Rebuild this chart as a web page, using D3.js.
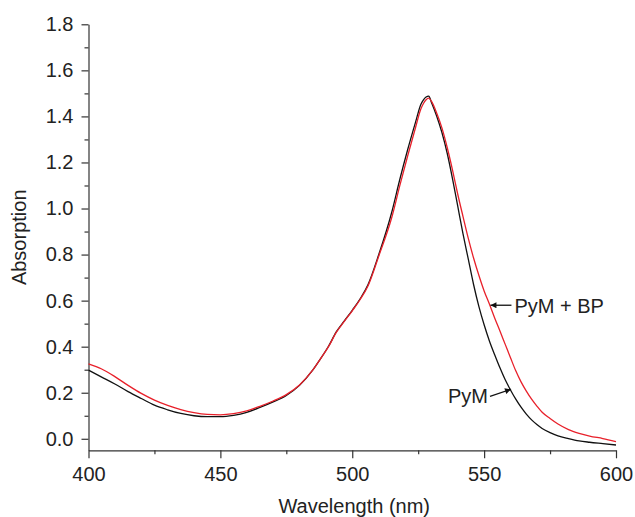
<!DOCTYPE html>
<html>
<head>
<meta charset="utf-8">
<script src="https://cdn.jsdelivr.net/npm/d3@7"></script>
<style>
  body { margin: 0; background: #fff; }
  svg text { font-family: "Liberation Sans", Arial, sans-serif; fill: #222; }
  .axis path, .axis line { stroke: #333; stroke-width: 1.2; }
</style>
</head>
<body>
<div id="chart"></div>
<script>
// wavelength samples (nm)
const wavelengths = [400, 405, 410, 415, 420, 425, 430, 435, 440, 445, 450, 455, 460, 465, 470, 475, 480,
  485, 488, 491, 494, 497, 500, 503, 506, 510, 515,
  518, 521, 524, 526, 527, 528, 529, 530,
  532, 534, 536, 538, 540, 542, 544, 546, 548, 550, 552, 554, 556, 558, 560, 562, 564, 566, 568, 570, 572,
  575, 578, 582, 586, 590, 595, 600];

// PyM (black)
const pym = [0.298, 0.268, 0.238, 0.205, 0.175, 0.146, 0.126, 0.110, 0.100, 0.096, 0.096, 0.102, 0.115, 0.136, 0.160, 0.188, 0.232,
  0.298, 0.348, 0.402, 0.465, 0.512, 0.558, 0.608, 0.670, 0.798, 0.985,
  1.125, 1.255, 1.375, 1.452, 1.472, 1.484, 1.488, 1.462,
  1.402, 1.330, 1.240, 1.130, 1.010, 0.890, 0.780, 0.670, 0.575, 0.495, 0.425, 0.365, 0.308, 0.256, 0.212, 0.172, 0.137, 0.107, 0.082, 0.062, 0.045,
  0.027, 0.013, 0.001, -0.009, -0.015, -0.021, -0.027];

// PyM + BP (red)
const pymBp = [0.325, 0.303, 0.270, 0.232, 0.197, 0.168, 0.145, 0.127, 0.114, 0.106, 0.104, 0.109, 0.121, 0.141, 0.164, 0.192, 0.234,
  0.298, 0.348, 0.400, 0.463, 0.510, 0.556, 0.605, 0.665, 0.792, 0.962,
  1.098, 1.228, 1.352, 1.432, 1.456, 1.472, 1.479, 1.466,
  1.415, 1.350, 1.265, 1.168, 1.062, 0.965, 0.870, 0.785, 0.710, 0.642, 0.585, 0.525, 0.468, 0.410, 0.352, 0.295, 0.247, 0.207, 0.172, 0.142, 0.115,
  0.088, 0.064, 0.040, 0.024, 0.012, 0.001, -0.012];

const xTicks = [400, 450, 500, 550, 600];
const xMinor = [425, 475, 525, 575];
const yTicks = [0, 0.2, 0.4, 0.6, 0.8, 1.0, 1.2, 1.4, 1.6, 1.8];
const yMinor = [0.1, 0.3, 0.5, 0.7, 0.9, 1.1, 1.3, 1.5, 1.7];

// annotations: label text, arrow tip (data coords)
const notes = [
  { text: "PyM + BP", wl: 552.4, a: 0.58 },
  { text: "PyM", wl: 560.2, a: 0.215 }
];

const W = 635, H = 517;
const svg = d3.select('#chart').append('svg')
  .attr('width', W).attr('height', H);

const x = d3.scaleLinear().domain([400, 600]).range([88.5, 616]);
const y = d3.scaleLinear().domain([-0.05, 1.8]).range([450.3, 24.3]);

// minor ticks first
svg.append('g').attr('class', 'axis')
  .attr('transform', `translate(0,${y(-0.05)})`)
  .call(d3.axisBottom(x).tickValues(xMinor).tickSize(4).tickFormat(''))
  .call(g => g.select('.domain').remove());
svg.append('g').attr('class', 'axis')
  .attr('transform', `translate(${x(400)},0)`)
  .call(d3.axisLeft(y).tickValues(yMinor).tickSize(4).tickFormat(''))
  .call(g => g.select('.domain').remove());

const xAxis = svg.append('g').attr('class', 'axis')
  .attr('transform', `translate(0,${y(-0.05)})`)
  .call(d3.axisBottom(x).tickValues(xTicks).tickSize(8).tickSizeOuter(0).tickPadding(9).tickFormat(d3.format('d')));
xAxis.selectAll('text').attr('font-size', 20);

const yAxis = svg.append('g').attr('class', 'axis')
  .attr('transform', `translate(${x(400)},0)`)
  .call(d3.axisLeft(y).tickValues(yTicks).tickSize(7).tickSizeOuter(0).tickPadding(8).tickFormat(d3.format('.1f')));
yAxis.selectAll('text').attr('font-size', 20);

// axis titles
svg.append('text')
  .attr('x', (x(400) + x(600)) / 2 + 2)
  .attr('y', 513)
  .attr('text-anchor', 'middle')
  .attr('font-size', 20)
  .text('Wavelength (nm)');

svg.append('text')
  .attr('transform', `translate(26,${(y(-0.05) + y(1.8)) / 2}) rotate(-90)`)
  .attr('text-anchor', 'middle')
  .attr('font-size', 20)
  .text('Absorption');

// curves
const line = d3.line()
  .x((d, i) => x(wavelengths[i]))
  .y(d => y(d))
  .curve(d3.curveMonotoneX);

svg.append('path')
  .datum(pym)
  .attr('fill', 'none')
  .attr('stroke', '#111')
  .attr('stroke-width', 1.3)
  .attr('d', line);

svg.append('path')
  .datum(pymBp)
  .attr('fill', 'none')
  .attr('stroke', '#e8202a')
  .attr('stroke-width', 1.3)
  .attr('d', line);

// arrow marker
svg.append('defs').append('marker')
  .attr('id', 'arrow')
  .attr('viewBox', '0 0 10 10')
  .attr('refX', 10).attr('refY', 5)
  .attr('markerWidth', 8).attr('markerHeight', 6)
  .attr('markerUnits', 'userSpaceOnUse')
  .attr('orient', 'auto')
  .append('path')
  .attr('d', 'M0,0 L10,5 L0,10 Z')
  .attr('fill', '#111');

// PyM + BP label
const n0 = notes[0];
const t0x = x(n0.wl), t0y = y(n0.a);
svg.append('line')
  .attr('x1', t0x + 21).attr('y1', t0y)
  .attr('x2', t0x).attr('y2', t0y)
  .attr('stroke', '#111').attr('stroke-width', 1.3)
  .attr('marker-end', 'url(#arrow)');
svg.append('text')
  .attr('x', t0x + 24).attr('y', t0y + 7.5)
  .attr('font-size', 20)
  .text(n0.text);

// PyM label
const n1 = notes[1];
const t1x = x(n1.wl), t1y = y(n1.a);
svg.append('line')
  .attr('x1', t1x - 21).attr('y1', t1y + 7)
  .attr('x2', t1x).attr('y2', t1y)
  .attr('stroke', '#111').attr('stroke-width', 1.3)
  .attr('marker-end', 'url(#arrow)');
svg.append('text')
  .attr('x', t1x - 23).attr('y', t1y + 14)
  .attr('text-anchor', 'end')
  .attr('font-size', 20)
  .text(n1.text);
</script>
</body>
</html>
